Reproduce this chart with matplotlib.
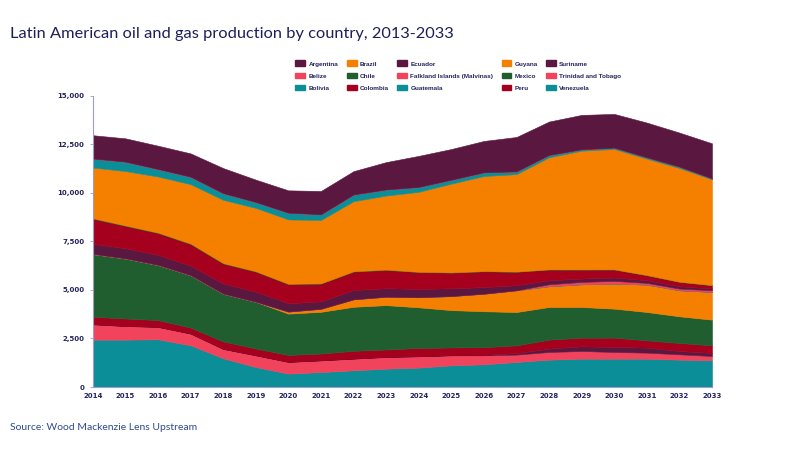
import matplotlib
matplotlib.use("Agg")
import matplotlib.pyplot as plt
from matplotlib.patches import Patch
from matplotlib.ticker import FuncFormatter

years = list(range(2014, 2034))

countries = ["Argentina", "Belize", "Bolivia", "Brazil", "Chile", "Colombia", "Ecuador",
             "Falkland Islands (Malvinas)", "Guatemala", "Guyana", "Mexico", "Peru",
             "Suriname", "Trinidad and Tobago", "Venezuela"]

argentina = [1200, 1200, 1200, 1200, 1290, 1150, 1150, 1200, 1200, 1410, 1600, 1580, 1615, 1770, 1718, 1770, 1735, 1787, 1752, 1804]
belize = [5, 5, 5, 4, 4, 3, 3, 3, 3, 2, 2, 2, 2, 2, 2, 1, 1, 1, 1, 1]
bolivia = [460, 480, 380, 380, 340, 300, 344, 290, 344, 310, 250, 200, 190, 140, 120, 70, 70, 70, 70, 50]
brazil = [2610, 2800, 2890, 3060, 3260, 3264, 3316, 3264, 3608, 3814, 4120, 4570, 4896, 5020, 5773, 6116, 6200, 5996, 5858, 5446]
chile = [30, 28, 26, 25, 24, 22, 20, 20, 20, 20, 18, 16, 15, 14, 13, 12, 11, 10, 10, 9]
colombia = [1290, 1150, 1120, 1116, 1030, 1030, 980, 910, 945, 945, 860, 810, 810, 690, 550, 463, 412, 257, 224, 172]
ecuador = [515, 516, 515, 480, 515, 515, 430, 380, 480, 430, 430, 395, 340, 260, 207, 172, 172, 138, 120, 86]
falklands = [0, 0, 0, 0, 0, 0, 0, 0, 0, 0, 0, 0, 0, 0, 100, 120, 137, 86, 86, 86]
guatemala = [12, 12, 11, 10, 10, 9, 8, 8, 7, 7, 6, 6, 5, 5, 5, 4, 4, 4, 3, 3]
guyana = [0, 0, 0, 0, 0, 0, 100, 150, 380, 430, 516, 720, 900, 1116, 1065, 1168, 1290, 1408, 1340, 1426]
mexico = [3230, 3090, 2835, 2700, 2457, 2405, 2130, 2150, 2268, 2285, 2096, 1924, 1850, 1718, 1683, 1580, 1494, 1460, 1374, 1322]
peru = [380, 380, 344, 300, 378, 344, 350, 344, 395, 378, 420, 395, 400, 396, 464, 447, 481, 378, 413, 396]
suriname = [10, 10, 10, 10, 10, 10, 10, 10, 10, 10, 10, 10, 20, 80, 172, 240, 258, 257, 171, 154]
trinidad = [790, 700, 635, 600, 480, 600, 600, 600, 600, 600, 580, 515, 465, 380, 395, 395, 344, 310, 275, 224]
venezuela = [2440, 2440, 2460, 2150, 1480, 1030, 690, 770, 860, 945, 1000, 1117, 1168, 1289, 1409, 1460, 1460, 1460, 1409, 1374]

series = [argentina, belize, bolivia, brazil, chile, colombia, ecuador, falklands,
          guatemala, guyana, mexico, peru, suriname, trinidad, venezuela]

PURPLE = "#5A1840"
PINK = "#F2435D"
TEAL = "#0B8E98"
ORANGE = "#F58000"
GREEN = "#205E2F"
RED = "#A6001F"
colors = [PURPLE, PINK, TEAL, ORANGE, GREEN, RED, PURPLE, PINK, TEAL, ORANGE, GREEN, RED,
          PURPLE, PINK, TEAL]

NAVY = "#24245E"

fig = plt.figure(figsize=(8, 4.5), dpi=100)
ax = fig.add_axes([0.116, 0.14, 0.774, 0.647])

polys = ax.stackplot(years, series[::-1], colors=colors[::-1], linewidth=0)
for p, c in zip(polys, colors[::-1]):
    p.set_edgecolor(c)
    p.set_linewidth(0.4)

ax.set_xlim(2014, 2033)
ax.set_ylim(0, 15000)
ax.set_xticks(years)
ax.set_yticks(range(0, 15001, 2500))
ax.yaxis.set_major_formatter(FuncFormatter(lambda v, p: f"{int(v):,}"))
for lab in ax.get_xticklabels() + ax.get_yticklabels():
    lab.set_fontweight("bold")
    lab.set_fontsize(5)
    lab.set_color(NAVY)
ax.tick_params(axis="both", length=0, pad=4)
ax.tick_params(axis="y", length=2, color="#9D9DC8", width=0.6)
for s in ["top", "right"]:
    ax.spines[s].set_visible(False)
for s in ["left", "bottom"]:
    ax.spines[s].set_color("#9D9DC8")
    ax.spines[s].set_linewidth(0.8)

handles = [Patch(facecolor=c, edgecolor=c) for c in colors]
leg = fig.legend(handles, countries, ncol=5, loc="center",
                 bbox_to_anchor=(0.573, 0.832), frameon=False,
                 prop={"size": 4.6, "weight": "bold", "family": "Liberation Sans"},
                 labelcolor=NAVY,
                 handlelength=1.55, handleheight=1.0, handletextpad=0.5,
                 columnspacing=1.3, labelspacing=0.95)

fig.text(0.013, 0.915, "Latin American oil and gas production by country, 2013-2033",
         fontsize=11.8, color="#1C1F5A", family=["Lato", "DejaVu Sans"])
fig.text(0.013, 0.045, "Source: Wood Mackenzie Lens Upstream",
         fontsize=7.5, color="#2E4B8C", family=["Lato", "DejaVu Sans"])

fig.savefig("out.png", dpi=100)
